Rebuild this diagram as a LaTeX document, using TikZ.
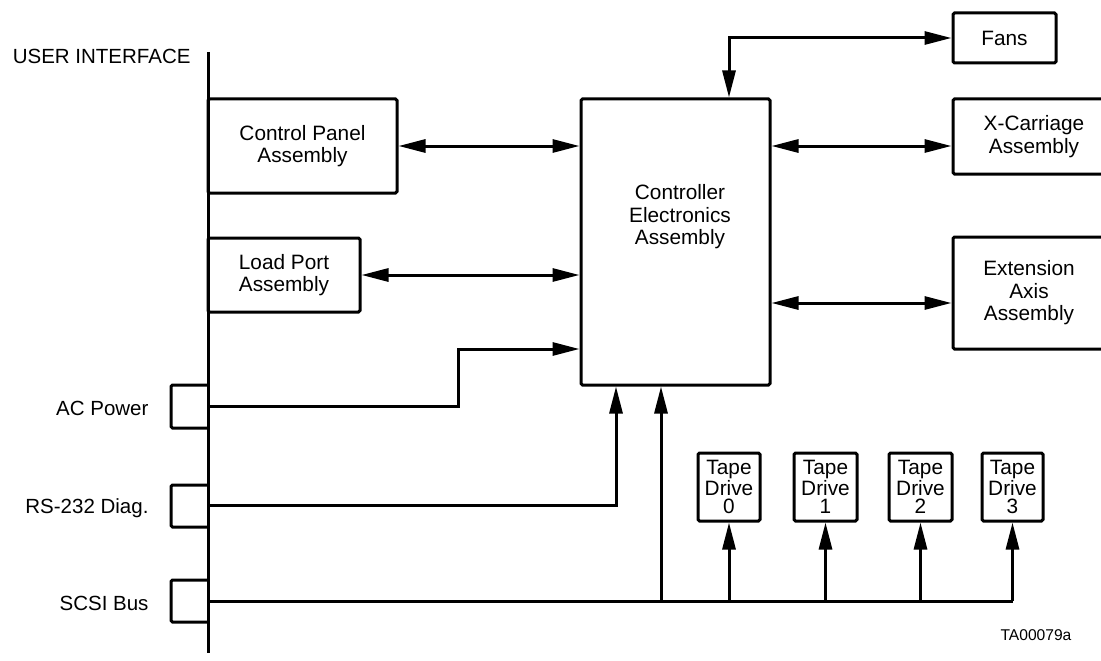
\documentclass[tikz,border=0pt]{standalone}
\usepackage{fontspec}
\setmainfont{Liberation Sans}
\usetikzlibrary{arrows.meta,calc}
\begin{document}
\begin{tikzpicture}[x=1pt,y=-1pt,line width=3pt,
  box/.style={draw,rounded corners=1.5pt,inner sep=0pt,align=center,font=\fontsize{20.8}{22.5}\selectfont},
  txt/.style={align=center,font=\fontsize{20.8}{22.5}\selectfont,inner sep=0pt},
  tape/.style={box,font=\fontsize{20.8}{18.5}\selectfont,minimum height=68pt},
  tip/.style={-{Triangle[length=27pt,width=13pt]}},
  biarr/.style={{Triangle[length=27pt,width=13pt]}-{Triangle[length=27pt,width=13pt]}},
  lbl/.style={font=\fontsize{20.5}{22.5}\selectfont,inner sep=0pt}]
\clip (0,0) rectangle (1101,661);
\fill[white] (0,0) rectangle (1101,661);

% user interface line
\coordinate (uitop) at (208,52);
\coordinate (uibot) at (208,653);
\draw (uitop) -- (uibot);
\node[lbl,anchor=east] (uil) at (192,56) {USER INTERFACE};

% boxes
\node[box,minimum width=189pt,minimum height=94pt] (cp) at (302.5,146) {Control Panel\\Assembly};
\node[box,minimum width=152pt,minimum height=74pt] (lp) at (284,275) {Load Port\\Assembly};
\node[box,minimum width=189pt,minimum height=286pt] (ce) at (675.5,242) {};
\node[txt] (cet) at (680,217) {Controller\\Electronics\\Assembly};
\node[box,minimum width=103pt,minimum height=50pt] (fans) at (1004.5,38) {Fans};
\node[box,minimum width=162pt,minimum height=75pt] (xc) at (1034,136.5) {X-Carriage\\Assembly};
\node[box,minimum width=152pt,minimum height=112pt] (ex) at (1029,293) {Extension\\Axis\\Assembly};

% tape drives
\node[tape,minimum width=62pt] (t0) at (729,487) {Tape\\Drive\\0};
\node[tape,minimum width=63pt] (t1) at (825.5,487) {Tape\\Drive\\1};
\node[tape,minimum width=63pt] (t2) at (920.5,487) {Tape\\Drive\\2};
\node[tape,minimum width=61pt] (t3) at (1012.5,487) {Tape\\Drive\\3};

% connector sockets
\draw[rounded corners=1.5pt] (208,385) -- (171,385) -- (171,428) -- (208,428);
\draw[rounded corners=1.5pt] (208,485) -- (171,485) -- (171,527) -- (208,527);
\draw[rounded corners=1.5pt] (208,580) -- (171,580) -- (171,622) -- (208,622);
\coordinate (ac) at (208,406);
\coordinate (rs) at (208,505);
\coordinate (sc) at (208,601);
\node[lbl,anchor=east] (acl) at (150,408) {AC Power};
\node[lbl,anchor=east] (rsl) at (150,508) {RS-232 Diag.};
\node[lbl,anchor=east] (scl) at (150,603) {SCSI Bus};

% connectors
\draw[biarr] (cp.east) -- (cp.east -| ce.west);
\draw[biarr] (lp.east) -- (lp.east -| ce.west);
\draw[biarr] (ce.east |- cp.east) -- (cp.east -| xc.west);
\draw[biarr] ([yshift=-10pt]ex.west -| ce.east) -- ([yshift=-10pt]ex.west);
\draw[biarr] ([xshift=53.5pt]ce.north) |- (fans.west);

\coordinate (acb) at (458,406);
\draw[tip] (ac) -- (acb) |- ([yshift=-107pt]ce.west);
\draw[tip] (rs) -| ([xshift=-59.5pt]ce.south);

\draw (sc) -- (sc -| t3.south);
\draw[tip] ([xshift=-14.5pt]ce.south |- sc) -- ([xshift=-14.5pt]ce.south);
\foreach \t in {t0,t1,t2,t3} \draw[tip] (\t.south |- sc) -- (\t.south);

\node[font=\fontsize{15.6}{17}\selectfont,inner sep=0pt] (id) at (1036,635) {TA00079a};
\end{tikzpicture}
\end{document}
